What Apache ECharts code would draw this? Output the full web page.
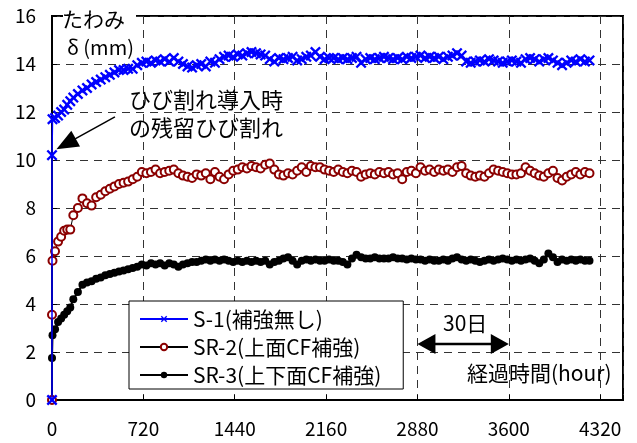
<!DOCTYPE html>
<html><head><meta charset="utf-8">
<script src="https://cdn.jsdelivr.net/npm/echarts@6/dist/echarts.min.js"></script>
<style>html,body{margin:0;padding:0;background:#fff}#c{width:637px;height:443px}</style>
</head><body><div id="c"></div>
<script>
var hours = [0,0,4,24,48,72,96,120,144,168,
204,240,276,312,348,384,420,456,492,528,
564,600,636,672,708,744,780,816,852,888,
924,960,996,1032,1068,1104,1140,1176,1212,1248,
1284,1320,1356,1392,1428,1464,1500,1536,1572,1608,
1644,1680,1716,1752,1788,1824,1860,1896,1932,1968,
2004,2040,2076,2112,2148,2184,2220,2256,2292,2328,
2364,2400,2436,2472,2508,2544,2580,2616,2652,2688,
2724,2760,2796,2832,2868,2904,2940,2976,3012,3048,
3084,3120,3156,3192,3228,3264,3300,3336,3372,3408,
3444,3480,3516,3552,3588,3624,3660,3696,3732,3768,
3804,3840,3876,3912,3948,3984,4020,4056,4092,4128,
4164,4200,4236];
var s1 = [0,10.2,11.7,11.75,11.85,12.0,12.1,12.3,12.45,12.6,
12.75,12.9,13.0,13.15,13.25,13.35,13.45,13.55,13.65,13.75,
13.75,13.8,13.8,13.95,14.05,14.1,14.05,14.15,14.1,14.2,
14.1,14.25,14.1,14.0,13.9,13.85,13.95,14.0,13.9,14.1,
14.05,14.2,14.3,14.35,14.3,14.4,14.35,14.45,14.5,14.45,
14.4,14.35,14.2,14.1,14.25,14.2,14.25,14.3,14.15,14.2,
14.3,14.35,14.5,14.3,14.2,14.25,14.25,14.2,14.25,14.2,
14.25,14.3,14.05,14.2,14.25,14.2,14.25,14.3,14.25,14.2,
14.25,14.2,14.3,14.25,14.3,14.35,14.25,14.3,14.25,14.3,
14.2,14.3,14.35,14.45,14.35,14.1,14.05,14.1,14.15,14.1,
14.2,14.15,14.1,14.05,14.1,14.15,14.1,14.05,14.2,14.25,
14.2,14.1,14.2,14.25,14.15,14.05,13.95,14.05,14.15,14.1,
14.2,14.1,14.15];
var sr2 = [0,3.55,5.8,6.2,6.6,6.8,7.05,7.1,7.1,7.7,
8.0,8.4,8.2,8.1,8.45,8.55,8.7,8.8,8.9,9.0,
9.05,9.1,9.2,9.3,9.5,9.45,9.5,9.6,9.45,9.5,
9.55,9.6,9.45,9.35,9.3,9.25,9.4,9.35,9.45,9.2,
9.5,9.3,9.2,9.4,9.55,9.6,9.7,9.65,9.75,9.7,
9.65,9.8,9.85,9.6,9.4,9.35,9.45,9.4,9.55,9.7,
9.5,9.75,9.7,9.7,9.6,9.55,9.5,9.6,9.5,9.45,
9.55,9.5,9.3,9.4,9.45,9.4,9.5,9.45,9.5,9.4,
9.45,9.2,9.5,9.55,9.45,9.7,9.55,9.6,9.5,9.6,
9.55,9.6,9.5,9.7,9.75,9.45,9.35,9.3,9.35,9.3,
9.45,9.6,9.55,9.5,9.45,9.4,9.4,9.45,9.7,9.55,
9.45,9.35,9.3,9.45,9.55,9.25,9.15,9.3,9.4,9.5,
9.4,9.5,9.45];
var sr3 = [0,1.75,2.7,2.95,3.25,3.4,3.55,3.7,3.85,4.2,
4.5,4.8,4.9,4.95,5.05,5.1,5.2,5.25,5.3,5.35,
5.4,5.45,5.5,5.55,5.65,5.6,5.7,5.65,5.7,5.6,
5.7,5.65,5.55,5.65,5.7,5.75,5.75,5.8,5.85,5.8,
5.85,5.8,5.85,5.8,5.75,5.8,5.75,5.8,5.75,5.8,
5.75,5.8,5.65,5.75,5.8,5.9,5.95,5.8,5.65,5.8,
5.85,5.8,5.85,5.8,5.8,5.85,5.8,5.8,5.75,5.65,
5.9,6.05,5.95,5.9,5.9,5.95,5.9,5.9,5.9,5.95,
5.9,5.9,5.85,5.9,5.85,5.85,5.8,5.85,5.8,5.8,
5.85,5.8,5.9,5.95,5.85,5.8,5.85,5.8,5.75,5.8,
5.85,5.8,5.85,5.9,5.85,5.8,5.85,5.8,5.85,5.9,
5.8,5.7,5.85,6.1,5.95,5.75,5.85,5.8,5.85,5.8,
5.85,5.8,5.8];
var seriesNames = ['S-1(補強無し)', 'SR-2(上面CF補強)', 'SR-3(上下面CF補強)'];
var xTicks = [0,720,1440,2160,2880,3600,4320];
var yTicks = [0,2,4,6,8,10,12,14,16];

var FONT = '"Noto Sans CJK JP", "Noto Sans", sans-serif';
function pairs(v){ return hours.map(function(h,i){ return [h, v[i]]; }); }
var XSYM = 'path://M0,1.5L1.5,0L5,3.5L8.5,0L10,1.5L6.5,5L10,8.5L8.5,10L5,6.5L1.5,10L0,8.5L3.5,5Z';

var chart = echarts.init(document.getElementById('c'), null, {renderer:'canvas'});
var option = {
  animation:false,
  backgroundColor:'#fff',
  textStyle:{fontFamily:FONT},
  grid:{left:52, top:16, right:14, bottom:43, show:true, borderColor:'#000', borderWidth:2, backgroundColor:'#fff'},
  xAxis:{type:'value', min:0, max:4500, interval:720,
    axisLine:{show:true, onZero:false, lineStyle:{color:'#000', width:2}},
    axisTick:{show:true, inside:true, length:5, lineStyle:{color:'#000'}},
    axisLabel:{color:'#000', fontSize:19, fontFamily:FONT, margin:19,
      formatter:function(v){ return xTicks.indexOf(v) >= 0 ? String(v) : ''; }},
    splitLine:{show:true, lineStyle:{color:'#333', type:[8,6], width:1}}
  },
  yAxis:{type:'value', min:0, max:16, interval:2,
    axisLine:{show:true, onZero:false, lineStyle:{color:'#000', width:2}},
    axisTick:{show:true, inside:true, length:5, lineStyle:{color:'#000'}},
    axisLabel:{color:'#000', fontSize:19, fontFamily:FONT, margin:16,
      formatter:function(v){ return yTicks.indexOf(v) >= 0 ? String(v) : ''; }},
    splitLine:{show:true, lineStyle:{color:'#333', type:[8,6], width:1}}
  },
  legend:{orient:'vertical', left:129, top:301,
    backgroundColor:'#fff', borderColor:'#000', borderWidth:1, borderRadius:0,
    padding:[6,22,2,10], itemGap:4, itemWidth:48, itemHeight:8,
    textStyle:{fontSize:21, color:'#000', fontFamily:FONT, lineHeight:24},
    data:seriesNames},
  series:[
    {name:seriesNames[2], type:'line', data:pairs(sr3), symbol:'circle', symbolSize:8,
      itemStyle:{color:'#000'}, lineStyle:{color:'#000', width:2}, z:3},
    {name:seriesNames[1], type:'line', data:pairs(sr2), symbol:'emptyCircle', symbolSize:8,
      itemStyle:{color:'#8b0000', borderColor:'#8b0000', borderWidth:1.7},
      lineStyle:{color:'#000', width:1}, z:4},
    {name:seriesNames[0], type:'line', data:pairs(s1), symbol:XSYM, symbolSize:11,
      itemStyle:{color:'#0000ff'}, lineStyle:{color:'#0000ff', width:1.5}, z:5}
  ]
};
chart.setOption(option);

function arrowHead(tip, from, len, half){
  var dx = tip[0]-from[0], dy = tip[1]-from[1];
  var L = Math.sqrt(dx*dx+dy*dy), ux = dx/L, uy = dy/L;
  var bx = tip[0]-ux*len, by = tip[1]-uy*len;
  return {type:'polygon', shape:{points:[tip,[bx-uy*half, by+ux*half],[bx+uy*half, by-ux*half]]},
    style:{fill:'#000'}, z:100};
}
function P(t,v){ return chart.convertToPixel({gridIndex:0}, [t,v]); }

var g = [];
g.push({type:'rect', shape:{x:63, y:6, width:73, height:18}, style:{fill:'#fff'}, z:90});
g.push({type:'text', left:62, top:9, style:{text:'たわみ', font:'21px '+FONT, fill:'#000'}, z:100});
g.push({type:'text', left:67, top:37, style:{text:'δ (mm)', font:'20px '+FONT, fill:'#000'}, z:100});
g.push({type:'text', left:129, top:86, style:{text:'ひび割れ導入時\nの残留ひび割れ', font:'22px '+FONT, fill:'#000', lineHeight:28}, z:100});
var aTip = P(35, 10.45), aFrom = P(496, 11.8);
var aBase = [aTip[0]+(aFrom[0]-aTip[0])*0.25, aTip[1]+(aFrom[1]-aTip[1])*0.25];
g.push({type:'line', shape:{x1:aFrom[0], y1:aFrom[1], x2:aBase[0], y2:aBase[1]}, style:{stroke:'#000', lineWidth:1.5}, z:100});
g.push(arrowHead(aTip, aFrom, 22, 9));
var d1 = P(2880, 2.33), d2 = P(3600, 2.33);
g.push({type:'line', shape:{x1:d1[0]+15, y1:d1[1], x2:d2[0]-15, y2:d2[1]}, style:{stroke:'#000', lineWidth:2.5}, z:100});
g.push(arrowHead(d1, d2, 18, 10));
g.push(arrowHead(d2, d1, 18, 10));
g.push({type:'text', left:443, top:313, style:{text:'30日', font:'21px '+FONT, fill:'#000'}, z:100});
g.push({type:'text', left:467, top:363, style:{text:'経過時間(hour)', font:'21px '+FONT, fill:'#000'}, z:100});
chart.setOption({graphic:g});
</script></body></html>
